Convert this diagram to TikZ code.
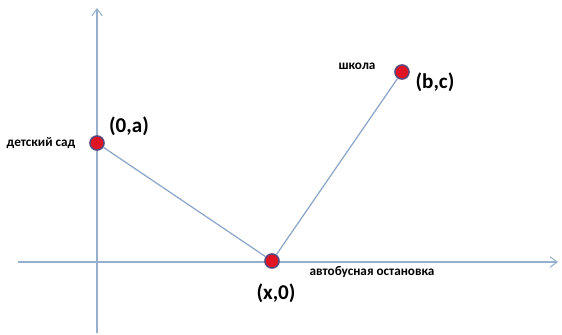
\documentclass[tikz,border=0pt]{standalone}
\usepackage{fontspec}
\setmainfont{Carlito}
\usetikzlibrary{arrows.meta}
\definecolor{axisblue}{RGB}{150,175,205}
\definecolor{segblue}{RGB}{140,165,200}
\definecolor{dotred}{RGB}{225,20,35}
\definecolor{dotrim}{RGB}{90,70,120}
\begin{document}
\begin{tikzpicture}[x=0.02cm,y=-0.02cm,
  axis/.style={draw=axisblue, line width=0.6pt, -{Straight Barb[length=4pt,width=6pt]}},
  seg/.style={draw=segblue, line width=0.7pt},
  pt/.style={circle, fill=dotred, draw=dotrim, line width=0.9pt, minimum size=8pt, inner sep=0pt},
  coordlab/.style={font=\fontsize{12}{14}\selectfont\bfseries, text=black},
  namelab/.style={font=\fontsize{7.5}{8}\selectfont\bfseries, text=black}
]
\useasboundingbox (0,0) rectangle (562,335);
\coordinate (ybot) at (97,333);
\coordinate (ytop) at (97,8);
\coordinate (xl) at (18,262);
\coordinate (xr) at (558,262);
\draw[axis] (ybot) -- (ytop);
\draw[axis] (xl) -- (xr);
\node[pt] (A) at (97,143) {};
\node[pt] (X) at (272,261) {};
\node[pt] (B) at (402,72) {};
\draw[seg] (A) -- (X);
\draw[seg] (X) -- (B);
\node[coordlab] (la) at (129,126) {(0,a)};
\node[namelab] (ld) at (41,143) {детский сад};
\node[namelab] (ls) at (357,66) {школа};
\node[coordlab] (lb) at (435,82) {(b,c)};
\node[coordlab] (lx) at (276,293) {(x,0)};
\node[namelab] (lo) at (372,272) {автобусная остановка};
\end{tikzpicture}
\end{document}
